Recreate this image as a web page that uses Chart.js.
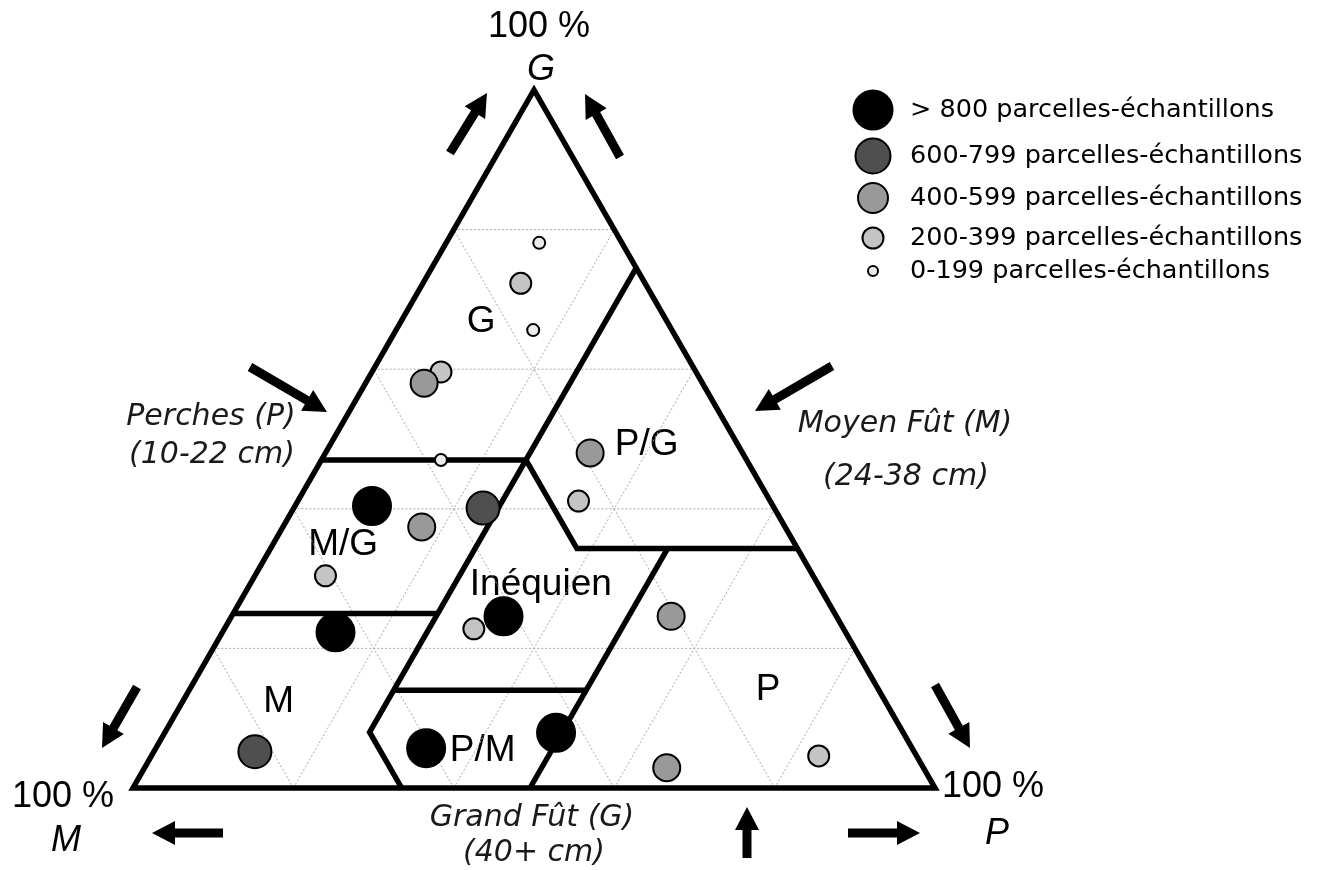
<!DOCTYPE html>
<html>
<head>
<meta charset="utf-8">
<script src="https://cdn.jsdelivr.net/npm/chart.js@4.4.1/dist/chart.umd.min.js"></script>
<style>
  html, body { margin: 0; padding: 0; background: #fff; }
  canvas { display: block; }
</style>
</head>
<body>
<canvas id="grafico" width="1322" height="870"></canvas>
<script>
// Classes de parcelles-échantillons
const classes = [
  "> 800 parcelles-échantillons",
  "600-799 parcelles-échantillons",
  "400-599 parcelles-échantillons",
  "200-399 parcelles-échantillons",
  "0-199 parcelles-échantillons",
];

// Points : [P %, G %]  (M = 100 - P - G)
const plus800 = [[9.6, 40.4], [14.1, 22.3], [33.9, 24.6], [33.7, 5.7], [48.8, 7.9]];
const de600a799 = [[23.6, 40.1], [12.6, 5.2]];
const de400a599 = [[7.3, 58.0], [33.0, 48.0], [17.3, 37.4], [54.8, 24.6], [65.1, 2.9]];
const de200a399 = [[12.2, 72.3], [8.6, 59.6], [35.0, 41.1], [8.8, 30.4], [31.1, 22.8], [83.2, 4.6]];
const de0a199 = [[11.6, 78.1], [17.1, 65.6], [14.9, 47.0]];
const series = [plus800, de600a799, de400a599, de200a399, de0a199];

// Limites des types de peuplement : [P %, G %]
const limites = [
  [[25.5, 74.5], [25.5, 8], [33.5, 0]],
  [[0, 47], [25.5, 47], [38.2, 34.3], [65.7, 34.3]],
  [[49.5, 34.3], [49.5, 0]],
  [[25.5, 14], [49.5, 14]],
  [[0, 25], [25.5, 25]],
];
const triangle = [[0, 0], [100, 0], [0, 100], [0, 0], [100, 0]];
const grille = [20, 40, 60, 80];

const zones = ["G", "P/G", "M/G", "Inéquien", "M", "P/M", "P"];
const zonesPos = [[10.0, 66.8], [39.5, 49.1], [8.8, 34.8], [36.3, 29.1], [12.0, 12.3], [40.9, 5.4], [72.2, 14.0]];

// styles
const couleurs = ["#000000", "#4f4f4f", "#999999", "#c4c4c4", "#ebebeb"];
const rayons = [19, 16.5, 13.5, 10.5, 6];
const rayonsLegende = [19.5, 17.5, 15, 10.5, 5];

// coordonnées ternaires -> plan
const toXY = ([p, g]) => ({ x: p + g / 2, y: g });

const datasets = [];

series.forEach((s, i) => {
  datasets.push({
    label: classes[i],
    data: s.map(toXY),
    pointRadius: rayons[i],
    pointBackgroundColor: couleurs[i],
    pointBorderColor: "#000",
    pointBorderWidth: 2,
    clip: false,
    order: 0,
  });
});

datasets.push({
  data: triangle.map(toXY),
  showLine: true,
  borderColor: "#000",
  borderWidth: 5.5,
  borderJoinStyle: "miter",
  pointRadius: 0,
  clip: false,
  order: 1,
});

limites.forEach((l) => {
  datasets.push({
    data: l.map(toXY),
    showLine: true,
    borderColor: "#000",
    borderWidth: 5.5,
    borderJoinStyle: "miter",
    pointRadius: 0,
    clip: false,
    order: 1,
  });
});

// grille 20 %
grille.forEach((k) => {
  [
    [[0, k], [100 - k, k]],
    [[k, 0], [k, 100 - k]],
    [[100 - k, 0], [0, 100 - k]],
  ].forEach((seg) => {
    datasets.push({
      data: seg.map(toXY),
      showLine: true,
      borderColor: "#a8a8a8",
      borderWidth: 1,
      borderDash: [2, 2],
      pointRadius: 0,
      clip: false,
      order: 2,
    });
  });
});

function fleche(c, x1, y1, x2, y2) {
  const ang = Math.atan2(y2 - y1, x2 - x1);
  const len = Math.hypot(x2 - x1, y2 - y1);
  const head = 23, hw = 12, sw = 4.5;
  c.save();
  c.translate(x1, y1);
  c.rotate(ang);
  c.beginPath();
  c.moveTo(0, -sw);
  c.lineTo(len - head, -sw);
  c.lineTo(len - head, -hw);
  c.lineTo(len, 0);
  c.lineTo(len - head, hw);
  c.lineTo(len - head, sw);
  c.lineTo(0, sw);
  c.closePath();
  c.fillStyle = "#000";
  c.fill();
  c.restore();
}

const decor = {
  id: "decor",
  beforeDatasetsDraw(chart) {
    const c = chart.ctx;
    const { x, y } = chart.scales;
    c.save();
    c.fillStyle = "#000";
    c.font = "37px 'Liberation Sans', Arial, sans-serif";
    c.textAlign = "center";
    c.textBaseline = "middle";
    zones.forEach((z, i) => {
      const pt = toXY(zonesPos[i]);
      c.fillText(z, x.getPixelForValue(pt.x), y.getPixelForValue(pt.y));
    });
    c.restore();
  },
  afterDraw(chart) {
    const c = chart.ctx;
    c.save();
    c.textAlign = "center";
    c.textBaseline = "middle";
    c.fillStyle = "#000";

    // sommets
    c.font = "36px 'Liberation Sans', Arial, sans-serif";
    c.fillText("100 %", 539, 27);
    c.fillText("100 %", 63, 797);
    c.fillText("100 %", 993, 787);
    c.font = "italic 36px 'Liberation Sans', Arial, sans-serif";
    c.fillText("G", 541, 70);
    c.fillText("M", 66, 841);
    c.fillText("P", 997, 834);

    // axes
    c.fillStyle = "#1a1a1a";
    c.font = "italic 30px 'DejaVu Sans', sans-serif";
    c.fillText("Perches (P)", 211, 417);
    c.fillText("(10-22 cm)", 212, 455);
    c.fillText("Moyen Fût (M)", 905, 424);
    c.fillText("(24-38 cm)", 906, 477);
    c.fillText("Grand Fût (G)", 532, 818);
    c.fillText("(40+ cm)", 534, 853);

    // flèches
    [
      [450, 153, 487, 93], [620, 157, 585, 94],
      [250, 367, 327, 412], [832, 366, 755, 411],
      [137, 687, 102, 748], [935, 685, 970, 748],
      [223, 833, 152, 833], [848, 833, 920, 833],
      [747, 858, 747, 807],
    ].forEach((a) => fleche(c, ...a));

    // légende
    const ly = [110, 156, 198, 238, 271];
    c.textAlign = "left";
    c.font = "25.5px 'DejaVu Sans', sans-serif";
    classes.forEach((t, i) => {
      c.beginPath();
      c.arc(873, ly[i], rayonsLegende[i], 0, Math.PI * 2);
      c.fillStyle = couleurs[i];
      c.fill();
      c.lineWidth = 2;
      c.strokeStyle = "#000";
      c.stroke();
      c.fillStyle = "#000";
      c.fillText(t, 910, ly[i]);
    });
    c.restore();
  },
};

new Chart(document.getElementById("grafico").getContext("2d"), {
  type: "scatter",
  data: { datasets },
  options: {
    responsive: false,
    animation: false,
    events: [],
    layout: { padding: { left: 133, right: 387, top: 90, bottom: 82 } },
    scales: {
      x: { type: "linear", min: 0, max: 100, display: false },
      y: { type: "linear", min: 0, max: 100, display: false },
    },
    plugins: { legend: { display: false }, tooltip: { enabled: false } },
  },
  plugins: [decor],
});
</script>
</body>
</html>
